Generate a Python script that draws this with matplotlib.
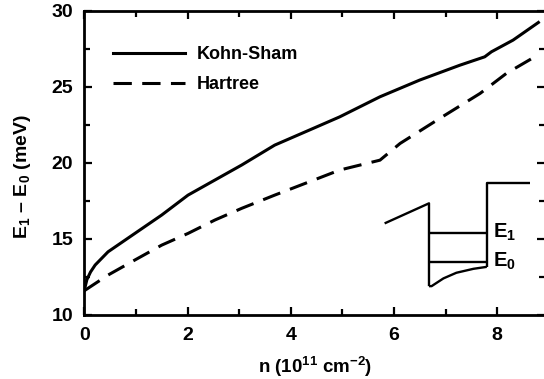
import matplotlib
matplotlib.use("Agg")
import matplotlib.pyplot as plt
from matplotlib.ticker import MultipleLocator

plt.rcParams["font.family"] = ["Liberation Sans", "DejaVu Sans"]
plt.rcParams["font.weight"] = "bold"
plt.rcParams["axes.labelweight"] = "bold"
plt.rcParams["mathtext.fontset"] = "custom"
plt.rcParams["mathtext.rm"] = "Liberation Sans:bold"
plt.rcParams["mathtext.bf"] = "Liberation Sans:bold"
plt.rcParams["mathtext.it"] = "Liberation Sans:bold"
plt.rcParams["mathtext.default"] = "bf"

# density n (1e11 cm^-2) vs subband spacing E1 - E0 (meV)
ks_n = [0.0, 0.05, 0.12, 0.21, 0.46, 0.98, 1.50, 2.01, 2.53, 3.05, 3.69,
        4.47, 4.95, 5.73, 6.50, 7.28, 7.76, 7.89, 8.31, 8.80]
ks_de = [11.6, 12.3, 12.8, 13.26, 14.13, 15.34, 16.55, 17.86, 18.85, 19.84, 21.15,
         22.3, 23.01, 24.33, 25.43, 26.41, 26.96, 27.29, 28.06, 29.22]

hartree_n = [0.0, 0.46, 0.98, 1.50, 2.01, 2.53, 3.05, 3.69, 4.47, 4.95,
             5.73, 6.12, 6.89, 7.67, 8.18, 8.73]
hartree_de = [11.57, 12.60, 13.59, 14.57, 15.34, 16.22, 16.99, 17.86, 18.88,
              19.51, 20.16, 21.26, 22.91, 24.55, 25.87, 26.96]

# schematic quantum well sketch (same data units as the axes)
well_x = [5.82, 6.68, 6.68]
well_y = [16.0, 17.32, 11.87]
bottom_x = [6.68, 6.73, 6.96, 7.21, 7.54, 7.80]
bottom_y = [11.87, 11.87, 12.38, 12.75, 13.01, 13.14]
barrier_x = [7.80, 7.80, 8.64]
barrier_y = [13.14, 18.63, 18.63]
levels = [15.38, 13.47]
level_x = [6.68, 7.80]
level_names = ["E$_1$", "E$_0$"]

fig = plt.figure(figsize=(5.44, 3.79), dpi=100)
ax = fig.add_axes([0.155, 0.170, 0.847, 0.802])

lw = 2.2
ax.plot(ks_n, ks_de, color="black", lw=lw, label="Kohn-Sham")
ax.plot(hartree_n, hartree_de, color="black", lw=lw, linestyle=(0, (6, 3.4)),
        label="Hartree")

sk = dict(color="black", lw=1.7, solid_capstyle="butt")
ax.plot(well_x, well_y, **sk)
ax.plot(bottom_x, bottom_y, **sk)
ax.plot(barrier_x, barrier_y, **sk)
for lev, name in zip(levels, level_names):
    ax.plot(level_x, [lev, lev], **sk)
    ax.text(7.93, lev, name, fontsize=14.5, va="center", ha="left")

ax.set_xlim(0, 8.93)
ax.set_ylim(10, 30)
ax.xaxis.set_major_locator(MultipleLocator(2))
ax.xaxis.set_minor_locator(MultipleLocator(1))
ax.yaxis.set_major_locator(MultipleLocator(5))
ax.yaxis.set_minor_locator(MultipleLocator(2.5))
ax.tick_params(which="both", direction="in", top=True, right=True, width=1.6,
               labelsize=14)
ax.tick_params(axis="x", pad=9)
ax.tick_params(axis="y", pad=8)
ax.tick_params(which="major", length=6)
ax.tick_params(which="minor", length=4)
for side in ["left", "bottom", "top"]:
    ax.spines[side].set_linewidth(2)
ax.spines["right"].set_visible(False)

ax.set_xlabel("n (10$^{11}$ cm$^{-2}$)", fontsize=13.5, labelpad=8)
ax.set_ylabel("E$_1$ – E$_0$ (meV)", fontsize=14)
ax.yaxis.set_label_coords(-0.112, 0.455)

ax.legend(loc="upper left", bbox_to_anchor=(0.062, 0.884), frameon=False,
          fontsize=13, handlelength=4.0, handletextpad=0.65,
          labelspacing=0.75, borderpad=0, borderaxespad=0)

fig.savefig("out.png", dpi=100)
